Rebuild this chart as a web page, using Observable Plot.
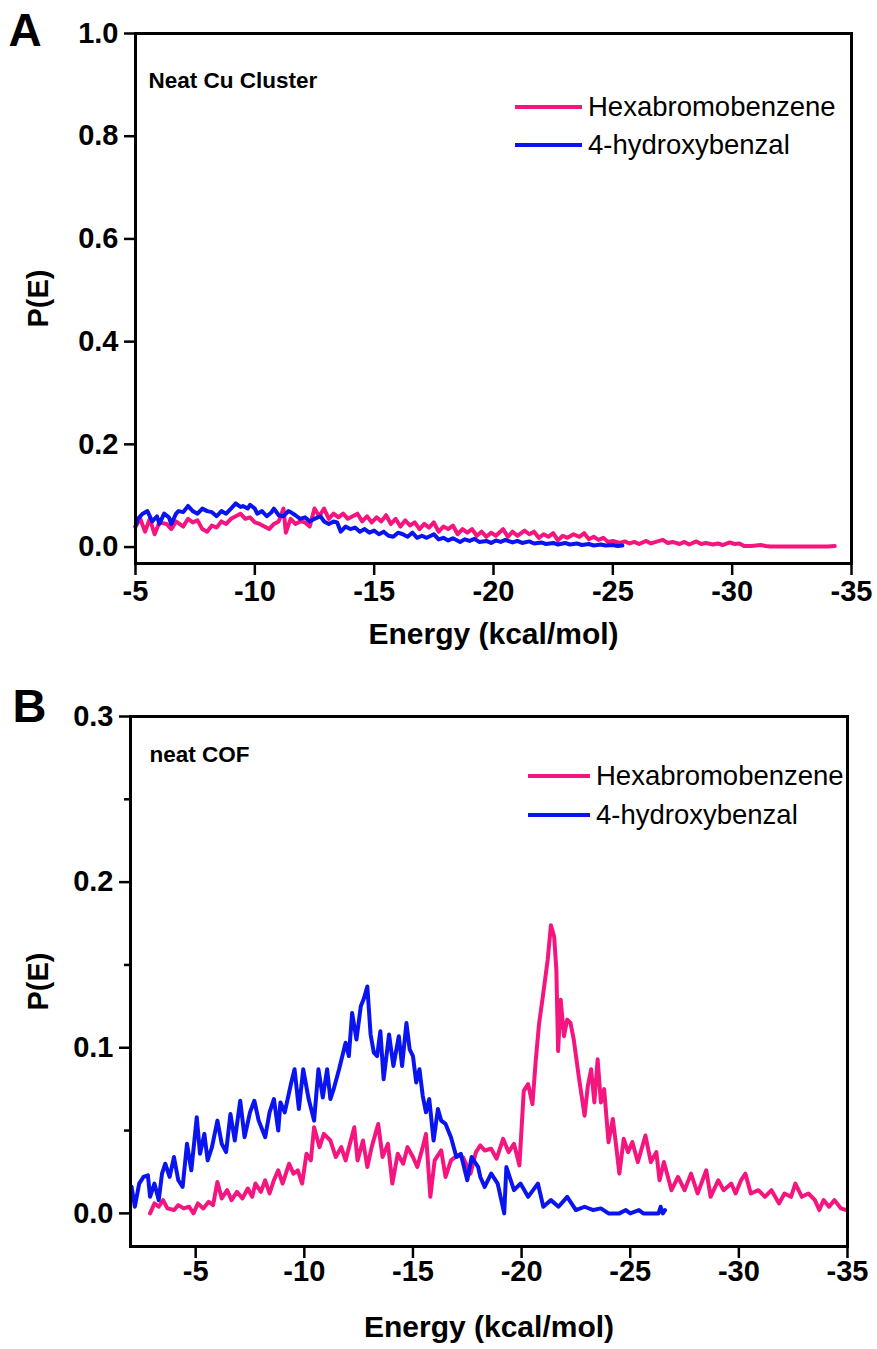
<!DOCTYPE html>
<html><head><meta charset="utf-8">
<script src="https://cdn.jsdelivr.net/npm/d3@7"></script>
<script src="https://cdn.jsdelivr.net/npm/@observablehq/plot@0.6"></script>
<style>
body{margin:0;background:#fff;}
#wrap{position:relative;width:877px;height:1349px;font-family:"Liberation Sans",Arial,sans-serif;overflow:hidden;}
.panel{position:absolute;left:0;}
.leg{position:absolute;display:flex;align-items:center;height:36px;font-size:27.5px;line-height:36px;color:#000;white-space:nowrap;}
.leg .ln{display:inline-block;height:4px;margin-right:6px;}
</style></head><body><div id="wrap"></div>
<script>
const FONT = '"Liberation Sans", Arial, sans-serif';
const PINK = "#f5157e";
const BLUE = "#0a14f0";
const seriesNames = ["Hexabromobenzene", "4-hydroxybenzal"];

// ---------- Panel A: Neat Cu Cluster ----------
const titleA = "Neat Cu Cluster";
const xTicksA = [-5, -10, -15, -20, -25, -30, -35];
const yTicksA = [0, 0.2, 0.4, 0.6, 0.8, 1.0];

const hexA_E = [-5.0,-5.2,-5.4,-5.6,-5.8,-6.0,-6.3,-6.5,-6.7,-7.0,-7.2,-7.4,-7.6,-7.8,-8.0,-8.2,-8.4,-8.6,-8.8,-9.0,-9.2,-9.4,-9.6,-9.8,-10.0,-10.2,-10.4,-10.6,-10.8,-11.0,-11.2,-11.3,-11.5,-11.7,-11.9,-12.1,-12.3,-12.5,-12.7,-12.9,-13.1,-13.3,-13.5,-13.7,-13.9,-14.1,-14.3,-14.5,-14.7,-14.9,-15.1,-15.3,-15.5,-15.7,-15.9,-16.1,-16.3,-16.5,-16.7,-16.9,-17.1,-17.3,-17.5,-17.7,-17.9,-18.1,-18.3,-18.5,-18.7,-18.9,-19.1,-19.3,-19.5,-19.7,-19.9,-20.1,-20.4,-20.6,-20.8,-21.0,-21.3,-21.5,-21.7,-21.9,-22.1,-22.3,-22.5,-22.7,-22.9,-23.1,-23.35,-23.6,-23.8,-24.0,-24.2,-24.4,-24.6,-24.8,-25.0,-25.3,-25.5,-25.7,-25.9,-26.1,-26.4,-26.6,-26.8,-27.1,-27.3,-27.5,-27.8,-28.0,-28.2,-28.5,-28.7,-28.9,-29.2,-29.4,-29.6,-29.9,-30.1,-30.3,-30.5,-30.8,-31.0,-31.2,-31.4,-31.6,-32.0,-32.5,-33.0,-33.5,-34.0,-34.3];
const hexA_P = [0.040,0.055,0.030,0.055,0.025,0.048,0.045,0.035,0.050,0.040,0.055,0.048,0.052,0.035,0.030,0.042,0.038,0.050,0.045,0.055,0.060,0.065,0.055,0.058,0.048,0.045,0.040,0.035,0.045,0.050,0.075,0.028,0.055,0.045,0.050,0.048,0.040,0.075,0.060,0.075,0.055,0.065,0.058,0.065,0.055,0.060,0.065,0.050,0.060,0.048,0.058,0.050,0.062,0.045,0.055,0.040,0.052,0.042,0.048,0.035,0.045,0.038,0.048,0.030,0.040,0.035,0.042,0.025,0.035,0.028,0.035,0.022,0.030,0.020,0.028,0.022,0.035,0.020,0.030,0.022,0.032,0.025,0.030,0.018,0.025,0.020,0.027,0.013,0.022,0.018,0.025,0.020,0.027,0.015,0.020,0.014,0.018,0.010,0.012,0.008,0.011,0.007,0.010,0.006,0.012,0.007,0.010,0.014,0.008,0.010,0.006,0.010,0.005,0.011,0.006,0.008,0.005,0.007,0.004,0.009,0.006,0.007,0.002,0.002,0.003,0.004,0.002,0.001,0.001,0.001,0.001,0.001,0.001,0.002];

const hydA_E = [-5.0,-5.1,-5.3,-5.5,-5.7,-5.9,-6.0,-6.2,-6.4,-6.5,-6.7,-6.8,-7.0,-7.2,-7.4,-7.6,-7.8,-8.0,-8.2,-8.4,-8.6,-8.8,-9.0,-9.2,-9.4,-9.5,-9.7,-9.8,-10.0,-10.1,-10.3,-10.5,-10.7,-10.8,-11.0,-11.2,-11.4,-11.5,-11.7,-11.9,-12.1,-12.3,-12.5,-12.75,-12.9,-13.1,-13.3,-13.45,-13.6,-13.8,-14.0,-14.2,-14.4,-14.6,-14.8,-15.0,-15.2,-15.4,-15.6,-15.8,-16.0,-16.2,-16.4,-16.6,-16.8,-17.0,-17.2,-17.5,-17.7,-17.9,-18.1,-18.3,-18.6,-18.8,-19.0,-19.2,-19.4,-19.7,-19.9,-20.1,-20.3,-20.5,-20.8,-21.0,-21.2,-21.5,-21.7,-22.0,-22.2,-22.5,-22.7,-23.0,-23.2,-23.5,-23.7,-24.0,-24.2,-24.5,-24.7,-25.0,-25.2,-25.4];
const hydA_P = [0.040,0.055,0.065,0.070,0.050,0.060,0.045,0.065,0.058,0.045,0.065,0.070,0.068,0.080,0.070,0.065,0.075,0.070,0.068,0.060,0.070,0.065,0.075,0.085,0.078,0.080,0.075,0.082,0.075,0.065,0.070,0.060,0.068,0.075,0.062,0.060,0.070,0.068,0.062,0.055,0.058,0.050,0.055,0.060,0.050,0.045,0.050,0.048,0.030,0.040,0.035,0.038,0.030,0.035,0.028,0.032,0.025,0.030,0.022,0.020,0.028,0.025,0.020,0.028,0.018,0.022,0.018,0.025,0.015,0.018,0.013,0.017,0.010,0.015,0.012,0.016,0.010,0.012,0.008,0.013,0.010,0.014,0.009,0.012,0.008,0.011,0.007,0.009,0.006,0.008,0.005,0.008,0.005,0.007,0.004,0.006,0.003,0.005,0.003,0.004,0.002,0.003];

// ---------- Panel B: neat COF ----------
const titleB = "neat COF";
const xTicksB = [-5, -10, -15, -20, -25, -30, -35];
const yTicksB = [0, 0.1, 0.2, 0.3];
const yMinorB = [0.05, 0.15, 0.25];

const hydB_E = [-2.05,-2.2,-2.4,-2.6,-2.8,-2.9,-3.1,-3.3,-3.45,-3.6,-3.8,-4.0,-4.2,-4.4,-4.6,-4.8,-5.05,-5.2,-5.4,-5.55,-5.75,-6.0,-6.2,-6.4,-6.6,-6.8,-7.05,-7.25,-7.5,-7.7,-7.9,-8.2,-8.4,-8.6,-8.8,-8.9,-9.1,-9.4,-9.55,-9.75,-9.95,-10.2,-10.45,-10.65,-10.85,-11.05,-11.2,-11.35,-11.6,-11.9,-12.05,-12.2,-12.4,-12.6,-12.75,-12.9,-13.05,-13.2,-13.35,-13.5,-13.65,-13.9,-14.1,-14.35,-14.5,-14.7,-14.85,-15.0,-15.15,-15.3,-15.45,-15.6,-15.75,-15.95,-16.15,-16.3,-16.5,-16.75,-17.0,-17.2,-17.35,-17.5,-17.7,-18.0,-18.1,-18.3,-18.6,-18.9,-19.2,-19.3,-19.65,-19.95,-20.3,-20.75,-21.0,-21.35,-21.7,-22.1,-22.5,-22.9,-23.3,-23.65,-24.0,-24.5,-24.8,-25.0,-25.4,-25.6,-26.0,-26.3,-26.4,-26.5,-26.6];
const hydB_P = [0.016,0.004,0.018,0.022,0.023,0.010,0.018,0.008,0.024,0.030,0.022,0.034,0.020,0.016,0.042,0.026,0.058,0.036,0.048,0.032,0.040,0.056,0.042,0.037,0.060,0.044,0.068,0.046,0.061,0.068,0.056,0.046,0.061,0.069,0.050,0.067,0.061,0.079,0.087,0.063,0.087,0.069,0.056,0.087,0.070,0.087,0.069,0.075,0.087,0.103,0.095,0.121,0.105,0.125,0.130,0.137,0.108,0.097,0.095,0.110,0.081,0.108,0.089,0.107,0.089,0.115,0.099,0.095,0.079,0.087,0.071,0.061,0.069,0.044,0.063,0.056,0.054,0.046,0.034,0.036,0.028,0.020,0.034,0.028,0.022,0.016,0.024,0.018,0.000,0.028,0.014,0.018,0.010,0.018,0.004,0.008,0.004,0.010,0.002,0.004,0.002,0.003,0.000,0.000,0.002,0.000,0.002,0.000,0.000,0.000,0.004,0.000,0.002];

const hexB_E = [-2.9,-3.1,-3.3,-3.5,-3.7,-4.0,-4.2,-4.45,-4.7,-4.9,-5.1,-5.35,-5.6,-5.8,-6.0,-6.2,-6.45,-6.65,-6.9,-7.15,-7.4,-7.6,-7.75,-8.0,-8.2,-8.4,-8.6,-8.8,-9.0,-9.3,-9.5,-9.7,-9.9,-10.1,-10.3,-10.45,-10.7,-10.9,-11.2,-11.45,-11.7,-11.9,-12.1,-12.3,-12.45,-12.7,-12.9,-13.1,-13.4,-13.6,-13.85,-14.05,-14.3,-14.55,-14.75,-15.0,-15.2,-15.45,-15.6,-15.8,-16.0,-16.3,-16.5,-16.75,-17.05,-17.3,-17.65,-17.9,-18.1,-18.3,-18.6,-18.85,-19.15,-19.4,-19.65,-19.9,-20.1,-20.3,-20.5,-20.65,-20.8,-21.0,-21.2,-21.35,-21.5,-21.6,-21.68,-21.8,-21.95,-22.1,-22.25,-22.4,-22.65,-22.9,-23.05,-23.2,-23.35,-23.5,-23.65,-23.8,-24.0,-24.2,-24.35,-24.5,-24.7,-24.9,-25.1,-25.35,-25.7,-25.95,-26.2,-26.35,-26.55,-26.9,-27.2,-27.5,-27.8,-28.1,-28.5,-28.7,-29.05,-29.3,-29.65,-29.85,-30.1,-30.3,-30.55,-30.9,-31.2,-31.5,-31.85,-32.1,-32.4,-32.6,-32.9,-33.2,-33.5,-33.7,-33.9,-34.15,-34.4,-34.7,-34.95];
const hexB_P = [0.000,0.006,0.004,0.008,0.003,0.002,0.005,0.003,0.004,0.000,0.006,0.003,0.007,0.005,0.019,0.009,0.014,0.008,0.013,0.009,0.015,0.010,0.018,0.013,0.020,0.012,0.020,0.026,0.018,0.030,0.024,0.026,0.018,0.036,0.032,0.052,0.040,0.048,0.044,0.034,0.040,0.032,0.042,0.052,0.032,0.044,0.028,0.040,0.054,0.034,0.042,0.018,0.036,0.030,0.040,0.034,0.028,0.040,0.048,0.010,0.032,0.038,0.022,0.032,0.035,0.034,0.024,0.037,0.041,0.038,0.039,0.033,0.045,0.037,0.042,0.029,0.074,0.078,0.066,0.092,0.114,0.133,0.153,0.174,0.167,0.147,0.098,0.129,0.107,0.117,0.115,0.105,0.081,0.059,0.077,0.087,0.067,0.093,0.067,0.075,0.043,0.057,0.041,0.024,0.045,0.037,0.043,0.031,0.047,0.031,0.037,0.020,0.031,0.014,0.022,0.014,0.024,0.012,0.026,0.010,0.020,0.014,0.018,0.012,0.020,0.024,0.012,0.014,0.010,0.014,0.006,0.012,0.010,0.018,0.010,0.012,0.008,0.002,0.008,0.004,0.008,0.003,0.002];

const rows = (E, P) => E.map((e, i) => ({E: e, P: P[i]}));
const fmtX = d => String(d);
const lineOpts = c => ({x: "E", y: "P", stroke: c, strokeWidth: 4, strokeLinejoin: "round", strokeLinecap: "round"});
const txt = {text: d => d, fontWeight: "bold", fill: "black"};

const pA = Plot.plot({
  width: 877, height: 660,
  marginLeft: 135, marginRight: 26, marginTop: 33, marginBottom: 97,
  style: {fontFamily: FONT, fontSize: "29px", background: "white", overflow: "visible"},
  x: {domain: [-5, -35]},
  y: {domain: [-0.032, 1.0]},
  marks: [
    Plot.line(rows(hexA_E, hexA_P), lineOpts(PINK)),
    Plot.line(rows(hydA_E, hydA_P), lineOpts(BLUE)),
    Plot.frame({stroke: "black", strokeWidth: 3}),
    Plot.axisX({ticks: xTicksA, tickFormat: fmtX, tickSize: 12, tickPadding: 5, strokeWidth: 2.5, fontSize: 29, fontWeight: "bold", label: null}),
    Plot.axisY({ticks: yTicksA, tickFormat: d3.format(".1f"), tickSize: 11, tickPadding: 6, strokeWidth: 2.5, fontSize: 29, fontWeight: "bold", label: null}),
    Plot.text(["Energy (kcal/mol)"], {...txt, frameAnchor: "bottom", dy: 71, lineAnchor: "middle", fontSize: 30}),
    Plot.text(["P(E)"], {...txt, frameAnchor: "left", dx: -97, rotate: -90, lineAnchor: "middle", textAnchor: "middle", fontSize: 29}),
    Plot.text([titleA], {...txt, frameAnchor: "top-left", dx: 13, dy: 39, lineAnchor: "top", fontSize: 22.5}),
    Plot.text(["A"], {...txt, frameAnchor: "top-left", dx: -127, dy: -20, lineAnchor: "top", fontSize: 46})
  ]
});

const pB = Plot.plot({
  width: 877, height: 689,
  marginLeft: 130, marginRight: 30, marginTop: 56, marginBottom: 103,
  style: {fontFamily: FONT, fontSize: "29px", background: "white", overflow: "visible"},
  x: {domain: [-2, -35]},
  y: {domain: [-0.02, 0.3]},
  marks: [
    Plot.line(rows(hexB_E, hexB_P), lineOpts(PINK)),
    Plot.line(rows(hydB_E, hydB_P), lineOpts(BLUE)),
    Plot.frame({stroke: "black", strokeWidth: 3}),
    Plot.axisX({ticks: xTicksB, tickFormat: fmtX, tickSize: 12, tickPadding: 2, strokeWidth: 2.5, fontSize: 29, fontWeight: "bold", label: null}),
    Plot.axisY({ticks: yTicksB, tickFormat: d3.format(".1f"), tickSize: 11, tickPadding: 6, strokeWidth: 2.5, fontSize: 29, fontWeight: "bold", label: null}),
    Plot.axisY({ticks: yMinorB, tickFormat: () => "", tickSize: 6, strokeWidth: 2.5, label: null}),
    Plot.text(["Energy (kcal/mol)"], {...txt, frameAnchor: "bottom", dy: 81, lineAnchor: "middle", fontSize: 30}),
    Plot.text(["P(E)"], {...txt, frameAnchor: "left", dx: -92, rotate: -90, lineAnchor: "middle", textAnchor: "middle", fontSize: 29}),
    Plot.text([titleB], {...txt, frameAnchor: "top-left", dx: 19, dy: 30, lineAnchor: "top", fontSize: 22.5}),
    Plot.text(["B"], {...txt, frameAnchor: "top-left", dx: -118, dy: -28, lineAnchor: "top", fontSize: 47})
  ]
});

const wrap = document.getElementById("wrap");
pA.classList.add("panel"); pA.style.top = "0px";
pB.classList.add("panel"); pB.style.top = "660px";
wrap.appendChild(pA);
wrap.appendChild(pB);

function legendRow(left, centerY, lineW, color, label) {
  const d = document.createElement("div");
  d.className = "leg";
  d.style.left = left + "px";
  d.style.top = (centerY - 18) + "px";
  const ln = document.createElement("span");
  ln.className = "ln";
  ln.style.width = lineW + "px";
  ln.style.background = color;
  const t = document.createElement("span");
  t.textContent = label;
  d.appendChild(ln); d.appendChild(t);
  wrap.appendChild(d);
}
legendRow(515, 107, 67, PINK, seriesNames[0]);
legendRow(515, 145, 67, BLUE, seriesNames[1]);
legendRow(528, 776, 62, PINK, seriesNames[0]);
legendRow(528, 815, 62, BLUE, seriesNames[1]);
</script></body></html>
